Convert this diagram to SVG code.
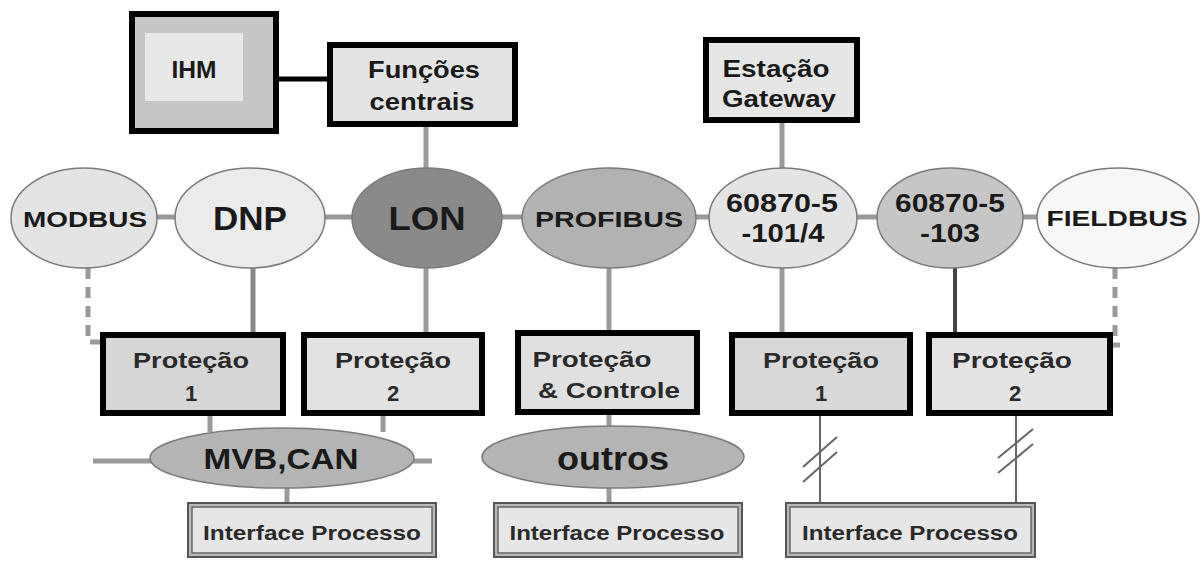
<svg xmlns="http://www.w3.org/2000/svg" width="1202" height="561" viewBox="0 0 1202 561">
<style>
.box{stroke:#000;stroke-width:6}
.ell{stroke:#7a7a7a;stroke-width:1.5}
.t{font-family:"Liberation Sans",Arial,sans-serif;font-weight:bold;fill:#1a1a1a;text-anchor:middle}
.tp{font-family:"Liberation Sans",Arial,sans-serif;font-weight:bold;fill:#2a2a2a;text-anchor:middle;font-size:22px}
.ti{font-family:"Liberation Sans",Arial,sans-serif;font-weight:bold;fill:#2a2a2a;text-anchor:middle;font-size:20px}
.g{stroke:#9a9a9a;stroke-width:5;fill:none}
.gd{stroke:#9a9a9a;stroke-width:5;fill:none;stroke-dasharray:11 8}
.thin{stroke:#666;stroke-width:2;fill:none}
.outer{fill:#b8b8b8;stroke:#555;stroke-width:2}
.inner{fill:#e6e6e6;stroke:#666;stroke-width:1.5}
</style>
<rect width="1202" height="561" fill="#fff"/>
<g id="connectors">
  <line x1="279" y1="79" x2="327" y2="79" stroke="#000" stroke-width="5"/>
  <line class="g" x1="426" y1="127" x2="426" y2="170"/>
  <line class="g" x1="782" y1="123" x2="782" y2="170"/>
  <line class="g" x1="150" y1="217" x2="1040" y2="217"/>
  <path class="gd" d="M88 268 V342 H100"/>
  <path class="gd" d="M1115 268 V346"/>
  <line class="g" x1="1112" y1="345" x2="1120" y2="345"/>
  <line x1="253" y1="268" x2="253" y2="333" stroke="#888" stroke-width="5"/>
  <line class="g" x1="426" y1="268" x2="426" y2="333"/>
  <line class="g" x1="609" y1="268" x2="609" y2="331"/>
  <line class="g" x1="782" y1="268" x2="782" y2="333"/>
  <line x1="955" y1="268" x2="955" y2="333" stroke="#444" stroke-width="4"/>
  <line class="g" x1="210" y1="416" x2="210" y2="432"/>
  <line class="g" x1="383" y1="416" x2="383" y2="432"/>
  <line class="g" x1="93" y1="461" x2="432" y2="461"/>
  <line class="g" x1="287" y1="486" x2="287" y2="503"/>
  <line class="g" x1="609" y1="414" x2="609" y2="428"/>
  <line class="g" x1="609" y1="487" x2="609" y2="503"/>
  <line class="thin" x1="820" y1="416" x2="820" y2="503"/>
  <line class="thin" x1="1016" y1="416" x2="1016" y2="503"/>
  <line class="thin" x1="803" y1="467" x2="837" y2="437"/>
  <line class="thin" x1="803" y1="482" x2="837" y2="452"/>
  <line class="thin" x1="998" y1="458" x2="1033" y2="429"/>
  <line class="thin" x1="998" y1="473" x2="1033" y2="444"/>
</g>
<g id="ihm">
  <rect class="box" x="132" y="14" width="144" height="117" fill="#c6c6c6"/>
  <rect x="145" y="33" width="98" height="68" fill="#e8e8e8"/>
  <text class="t" x="194" y="78" font-size="23" fill="#333" textLength="45" lengthAdjust="spacingAndGlyphs">IHM</text>
</g>
<g id="funcoes">
  <rect class="box" x="330" y="45" width="185" height="79" fill="#e4e4e4"/>
  <text class="t" x="424" y="78" font-size="24" textLength="112" lengthAdjust="spacingAndGlyphs">Funções</text>
  <text class="t" x="422" y="110" font-size="24" textLength="105" lengthAdjust="spacingAndGlyphs">centrais</text>
</g>
<g id="gateway">
  <rect class="box" x="706" y="40" width="151" height="80" fill="#e6e6e6"/>
  <text class="t" x="776" y="77" font-size="24" textLength="107" lengthAdjust="spacingAndGlyphs">Estação</text>
  <text class="t" x="779" y="107" font-size="24" textLength="114" lengthAdjust="spacingAndGlyphs">Gateway</text>
</g>
<g id="modbus">
  <ellipse class="ell" cx="84" cy="218" rx="73" ry="50" fill="#e4e4e4"/>
  <text class="t" x="85" y="227" font-size="22" textLength="124" lengthAdjust="spacingAndGlyphs">MODBUS</text>
</g>
<g id="dnp">
  <ellipse class="ell" cx="250" cy="218" rx="75" ry="50" fill="#ebebeb"/>
  <text class="t" x="250" y="230" font-size="33" textLength="74" lengthAdjust="spacingAndGlyphs">DNP</text>
</g>
<g id="lon">
  <ellipse class="ell" cx="427" cy="218" rx="75" ry="50" fill="#8a8a8a"/>
  <text class="t" x="427" y="230" font-size="33" textLength="77" lengthAdjust="spacingAndGlyphs">LON</text>
</g>
<g id="profibus">
  <ellipse class="ell" cx="609" cy="218" rx="87" ry="50" fill="#b2b2b2"/>
  <text class="t" x="609" y="227" font-size="22" textLength="148" lengthAdjust="spacingAndGlyphs">PROFIBUS</text>
</g>
<g id="iec101">
  <ellipse class="ell" cx="783" cy="218" rx="74" ry="50" fill="#e4e4e4"/>
  <text class="t" x="782" y="212" font-size="25" textLength="112" lengthAdjust="spacingAndGlyphs">60870-5</text>
  <text class="t" x="783" y="242" font-size="25" textLength="83" lengthAdjust="spacingAndGlyphs">-101/4</text>
</g>
<g id="iec103">
  <ellipse class="ell" cx="950" cy="218" rx="73" ry="50" fill="#c6c6c6"/>
  <text class="t" x="950" y="212" font-size="25" textLength="110" lengthAdjust="spacingAndGlyphs">60870-5</text>
  <text class="t" x="950" y="242" font-size="25" textLength="60" lengthAdjust="spacingAndGlyphs">-103</text>
</g>
<g id="fieldbus">
  <ellipse class="ell" cx="1118" cy="218" rx="81" ry="50" fill="#f7f7f7"/>
  <text class="t" x="1117" y="226" font-size="22" textLength="141" lengthAdjust="spacingAndGlyphs">FIELDBUS</text>
</g>
<g id="protecao1a">
  <rect class="box" x="103" y="335" width="180" height="78" fill="#d6d6d6"/>
  <text class="tp" x="191" y="368" textLength="116" lengthAdjust="spacingAndGlyphs">Proteção</text>
  <text class="tp" x="191" y="401">1</text>
</g>
<g id="protecao2a">
  <rect class="box" x="304" y="335" width="178" height="78" fill="#e2e2e2"/>
  <text class="tp" x="393" y="368" textLength="116" lengthAdjust="spacingAndGlyphs">Proteção</text>
  <text class="tp" x="393" y="401">2</text>
</g>
<g id="protcontrole">
  <rect class="box" x="518" y="333" width="179" height="79" fill="#e0e0e0"/>
  <text class="tp" x="592" y="367" textLength="119" lengthAdjust="spacingAndGlyphs">Proteção</text>
  <text class="tp" x="609" y="398" textLength="142" lengthAdjust="spacingAndGlyphs">&amp; Controle</text>
</g>
<g id="protecao1b">
  <rect class="box" x="732" y="335" width="178" height="78" fill="#d8d8d8"/>
  <text class="tp" x="821" y="368" textLength="116" lengthAdjust="spacingAndGlyphs">Proteção</text>
  <text class="tp" x="821" y="401">1</text>
</g>
<g id="protecao2b">
  <rect class="box" x="929" y="335" width="181" height="78" fill="#e4e4e4"/>
  <text class="tp" x="1012" y="368" textLength="120" lengthAdjust="spacingAndGlyphs">Proteção</text>
  <text class="tp" x="1015" y="401">2</text>
</g>
<g id="mvbcan">
  <ellipse class="ell" cx="282" cy="458" rx="132" ry="30" fill="#b4b4b4"/>
  <text class="t" x="281" y="469" font-size="30" textLength="155" lengthAdjust="spacingAndGlyphs">MVB,CAN</text>
</g>
<g id="outros">
  <ellipse class="ell" cx="613" cy="457" rx="131" ry="31" fill="#b4b4b4"/>
  <text class="t" x="613" y="470" font-size="33" textLength="112" lengthAdjust="spacingAndGlyphs">outros</text>
</g>
<g id="interface1">
  <rect class="outer" x="188" y="503" width="248" height="54"/>
  <rect class="inner" x="192" y="507" width="240" height="46"/>
  <text class="ti" x="312" y="540" textLength="218" lengthAdjust="spacingAndGlyphs">Interface Processo</text>
</g>
<g id="interface2">
  <rect class="outer" x="494" y="503" width="248" height="54"/>
  <rect class="inner" x="498" y="507" width="240" height="46"/>
  <text class="ti" x="617" y="540" textLength="215" lengthAdjust="spacingAndGlyphs">Interface Processo</text>
</g>
<g id="interface3">
  <rect class="outer" x="786" y="503" width="249" height="54"/>
  <rect class="inner" x="790" y="507" width="241" height="46"/>
  <text class="ti" x="910" y="540" textLength="216" lengthAdjust="spacingAndGlyphs">Interface Processo</text>
</g>
</svg>
